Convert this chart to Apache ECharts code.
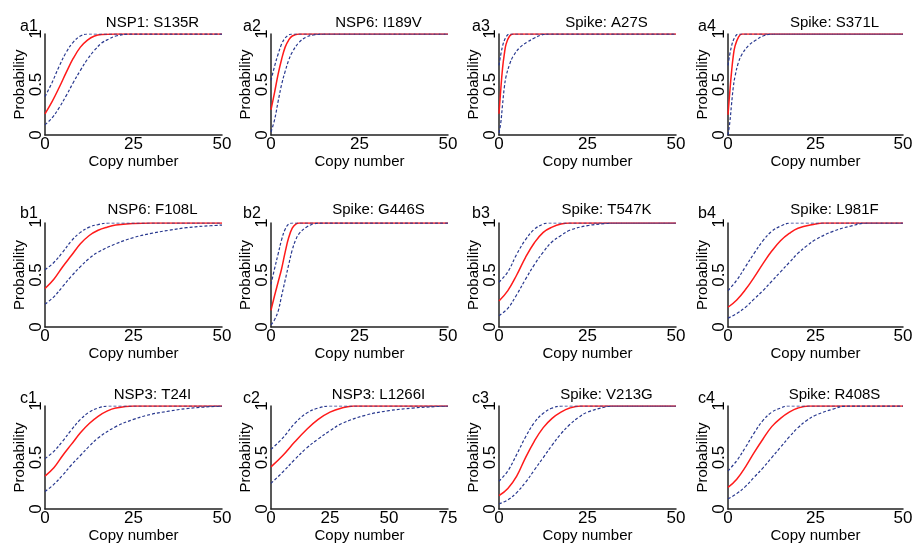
<!DOCTYPE html>
<html>
<head>
	<meta charset="utf-8">
	<title>Probability vs copy number</title>
	<script src="https://cdn.jsdelivr.net/npm/echarts@6/dist/echarts.min.js"></script>
	<style>
		html, body { margin: 0; padding: 0; background: #fff; }
		#chart { width: 916px; height: 544px; }
	</style>
</head>
<body>
	<div id="chart"></div>
	<script>
		// panel tags and titles
		var panelTags = ['a1', 'a2', 'a3', 'a4', 'b1', 'b2', 'b3', 'b4', 'c1', 'c2', 'c3', 'c4'];
		var panelTitles = ['NSP1: S135R', 'NSP6: I189V', 'Spike: A27S', 'Spike: S371L',
			'NSP6: F108L', 'Spike: G446S', 'Spike: T547K', 'Spike: L981F',
			'NSP3: T24I', 'NSP3: L1266I', 'Spike: V213G', 'Spike: R408S'];
		var xMax = [50, 50, 50, 50, 50, 50, 50, 50, 50, 75, 50, 50];
		var yTicks = [0, 0.5, 1];

		// [copy number, probability]: fit, upper, lower
		var a1Fit = [[0,0.21],[2,0.33],[4,0.47],[6,0.62],[8,0.76],[10,0.87],[12,0.94],[14,0.98],[16,0.995],[20,1],[50,1]];
		var a1Up = [[0,0.38],[2,0.52],[4,0.68],[6,0.82],[8,0.92],[10,0.98],[12,1],[50,1]];
		var a1Lo = [[0,0.10],[2,0.17],[4,0.27],[6,0.39],[8,0.52],[10,0.64],[12,0.75],[14,0.84],[16,0.91],[18,0.95],[20,0.98],[24,1],[50,1]];

		var a2Fit = [[0,0.25],[1,0.42],[2,0.6],[3,0.75],[4,0.87],[5,0.94],[6,0.98],[8,1],[50,1]];
		var a2Up = [[0,0.54],[1,0.68],[2,0.8],[3,0.9],[4,0.96],[5,0.99],[6,1],[50,1]];
		var a2Lo = [[0,0.03],[1,0.15],[2,0.33],[3,0.5],[4,0.63],[5,0.74],[6,0.82],[8,0.92],[10,0.97],[12,0.99],[15,1],[50,1]];

		var a3Fit = [[0,0.21],[0.5,0.45],[1,0.66],[1.5,0.8],[2,0.9],[3,0.98],[4,1],[50,1]];
		var a3Up = [[0,0.69],[1,0.88],[2,0.97],[3,1],[50,1]];
		var a3Lo = [[0,0.02],[0.5,0.12],[1,0.3],[1.5,0.47],[2,0.58],[3,0.7],[4,0.78],[6,0.87],[8,0.92],[10,0.96],[12,0.99],[14,1],[50,1]];

		var a4Fit = [[0,0.2],[0.5,0.42],[1,0.62],[1.5,0.78],[2,0.88],[3,0.97],[4,1],[50,1]];
		var a4Up = [[0,0.69],[1,0.88],[2,0.97],[3,1],[50,1]];
		var a4Lo = [[0,0.0],[0.5,0.12],[1,0.3],[1.5,0.47],[2,0.58],[3,0.72],[4,0.8],[6,0.89],[8,0.94],[10,0.98],[13,1],[50,1]];

		var b1Fit = [[0,0.37],[2.5,0.46],[5,0.58],[7.5,0.69],[10,0.8],[12.5,0.88],[15,0.93],[17.5,0.96],[20,0.98],[25,0.995],[30,1],[50,1]];
		var b1Up = [[0,0.55],[2.5,0.62],[5,0.72],[7.5,0.83],[10,0.91],[12.5,0.96],[15,0.985],[18,1],[50,1]];
		var b1Lo = [[0,0.22],[2.5,0.29],[5,0.39],[7.5,0.49],[10,0.58],[12.5,0.66],[15,0.72],[20,0.8],[25,0.86],[30,0.9],[35,0.93],[40,0.955],[45,0.97],[50,0.98]];

		var b2Fit = [[0,0.16],[1,0.3],[2,0.43],[3,0.56],[4,0.72],[5,0.86],[6,0.95],[7,0.99],[8,1],[50,1]];
		var b2Up = [[0,0.41],[1,0.56],[2,0.7],[3,0.84],[4,0.94],[5,0.99],[6,1],[50,1]];
		var b2Lo = [[0,0.02],[1,0.07],[2,0.15],[3,0.3],[4,0.45],[5,0.6],[6,0.74],[7,0.84],[8,0.9],[10,0.96],[12,0.99],[15,1],[50,1]];

		var b3Fit = [[0,0.25],[2.5,0.35],[5,0.5],[7.5,0.67],[10,0.81],[12.5,0.91],[15,0.96],[17.5,0.99],[20,1],[50,1]];
		var b3Up = [[0,0.43],[2.5,0.53],[5,0.7],[7.5,0.84],[10,0.94],[12.5,0.99],[14,1],[50,1]];
		var b3Lo = [[0,0.11],[2.5,0.18],[5,0.31],[7.5,0.46],[10,0.6],[12.5,0.72],[15,0.82],[17.5,0.88],[20,0.93],[25,0.975],[30,0.995],[32,1],[50,1]];

		var b4Fit = [[0,0.19],[2.5,0.26],[5,0.36],[7.5,0.48],[10,0.61],[12.5,0.73],[15,0.83],[17.5,0.9],[20,0.95],[25,0.99],[27,1],[50,1]];
		var b4Up = [[0,0.35],[2.5,0.45],[5,0.58],[7.5,0.71],[10,0.83],[12.5,0.92],[15,0.97],[18,1],[50,1]];
		var b4Lo = [[0,0.085],[2.5,0.13],[5,0.19],[7.5,0.27],[10,0.35],[12.5,0.44],[15,0.53],[17.5,0.62],[20,0.71],[22.5,0.78],[25,0.84],[30,0.92],[35,0.97],[40,1],[50,1]];

		var c1Fit = [[0,0.32],[2.5,0.4],[5,0.52],[7.5,0.63],[10,0.74],[12.5,0.83],[15,0.9],[17.5,0.95],[20,0.98],[25,1],[50,1]];
		var c1Up = [[0,0.49],[2.5,0.56],[5,0.66],[7.5,0.77],[10,0.87],[12.5,0.94],[15,0.98],[18,1],[50,1]];
		var c1Lo = [[0,0.17],[2.5,0.24],[5,0.33],[7.5,0.43],[10,0.52],[12.5,0.61],[15,0.69],[20,0.8],[25,0.87],[30,0.92],[35,0.95],[40,0.975],[45,0.99],[50,1]];

		var c2Fit = [[0,0.41],[5,0.52],[10,0.65],[15,0.77],[20,0.87],[25,0.94],[30,0.98],[35,1],[75,1]];
		var c2Up = [[0,0.58],[5,0.69],[10,0.83],[15,0.93],[20,0.98],[25,1],[75,1]];
		var c2Lo = [[0,0.25],[5,0.36],[10,0.48],[15,0.59],[20,0.68],[25,0.76],[30,0.83],[40,0.91],[50,0.955],[60,0.98],[70,0.995],[75,1]];

		var c3Fit = [[0,0.13],[2.5,0.2],[5,0.32],[7.5,0.5],[10,0.66],[12.5,0.79],[15,0.88],[17.5,0.94],[20,0.98],[23,1],[50,1]];
		var c3Up = [[0,0.27],[2.5,0.37],[5,0.53],[7.5,0.7],[10,0.84],[12.5,0.93],[15,0.98],[18,1],[50,1]];
		var c3Lo = [[0,0.05],[2.5,0.09],[5,0.16],[7.5,0.26],[10,0.38],[12.5,0.5],[15,0.62],[17.5,0.73],[20,0.82],[22.5,0.89],[25,0.94],[30,0.99],[32,1],[50,1]];

		var c4Fit = [[0,0.21],[2.5,0.29],[5,0.41],[7.5,0.55],[10,0.68],[12.5,0.8],[15,0.88],[17.5,0.94],[20,0.98],[23,1],[50,1]];
		var c4Up = [[0,0.37],[2.5,0.47],[5,0.6],[7.5,0.74],[10,0.86],[12.5,0.94],[15,0.98],[17,1],[50,1]];
		var c4Lo = [[0,0.1],[2.5,0.15],[5,0.22],[7.5,0.31],[10,0.4],[12.5,0.5],[15,0.6],[17.5,0.7],[20,0.79],[22.5,0.86],[25,0.91],[30,0.97],[34,1],[50,1]];

		var fits = [a1Fit, a2Fit, a3Fit, a4Fit, b1Fit, b2Fit, b3Fit, b4Fit, c1Fit, c2Fit, c3Fit, c4Fit];
		var uppers = [a1Up, a2Up, a3Up, a4Up, b1Up, b2Up, b3Up, b4Up, c1Up, c2Up, c3Up, c4Up];
		var lowers = [a1Lo, a2Lo, a3Lo, a4Lo, b1Lo, b2Lo, b3Lo, b4Lo, c1Lo, c2Lo, c3Lo, c4Lo];

		// layout in px
		var colLeft = [45, 271, 499, 728];
		var colWidth = [177, 177, 177, 175];
		var rowTop = [34, 223, 406];
		var rowHeight = [101, 104, 106];
		var tagLeft = [15, 238, 467, 693];
		var titleTop = [10, 197, 382];
		var tagTop = [14, 201, 386];

		var font = 'Liberation Sans, Arial, sans-serif';
		var axisColor = '#222';

		var grids = [], xAxes = [], yAxes = [], series = [], titles = [];

		for (var i = 0; i < 12; i++) {
			var r = Math.floor(i / 4), c = i % 4;
			grids.push({
				left: colLeft[c], top: rowTop[r],
				width: colWidth[c], height: rowHeight[r]
			});
			xAxes.push({
				type: 'value', gridIndex: i, min: 0, max: xMax[i], interval: 25,
				name: 'Copy number', nameLocation: 'middle', nameGap: 12,
				nameTextStyle: {fontFamily: font, fontSize: 15, color: '#000'},
				axisLine: {lineStyle: {color: axisColor, width: 1.5}},
				axisTick: {show: false},
				splitLine: {show: false},
				axisLabel: {fontFamily: font, fontSize: 17, color: '#000', margin: 1}
			});
			yAxes.push({
				type: 'value', gridIndex: i, min: 0, max: 1, interval: 0.5,
				name: 'Probability', nameLocation: 'middle', nameGap: 14,
				nameTextStyle: {fontFamily: font, fontSize: 15, color: '#000'},
				axisLine: {show: true, lineStyle: {color: axisColor, width: 1.5}},
				axisTick: {show: false},
				splitLine: {show: false},
				axisLabel: {
					fontFamily: font, fontSize: 17, color: '#000', rotate: 90, margin: 0,
					formatter: function (v) { return yTicks.indexOf(v) >= 0 ? String(v) : ''; }
				}
			});
			titles.push({
				text: panelTitles[i], left: colLeft[c] + colWidth[c] / 2 + 14, top: titleTop[r],
				textAlign: 'center',
				textStyle: {fontFamily: font, fontSize: 15, fontWeight: 'normal', color: '#000'}
			});
			titles.push({
				text: panelTags[i], left: tagLeft[c], top: tagTop[r],
				textStyle: {fontFamily: font, fontSize: 16, fontWeight: 'normal', color: '#000'}
			});

			[uppers[i], lowers[i]].forEach(function (d) {
				series.push({
					type: 'line', xAxisIndex: i, yAxisIndex: i, data: d,
					smooth: 0.4, showSymbol: false, silent: true, z: 3,
					lineStyle: {color: '#28388f', width: 1.2, type: [3, 2]}
				});
			});
			series.push({
				type: 'line', xAxisIndex: i, yAxisIndex: i, data: fits[i],
				smooth: 0.4, showSymbol: false, silent: true, z: 2,
				lineStyle: {color: '#ff1a1a', width: 1.5}
			});
		}

		var chart = echarts.init(document.getElementById('chart'), null, {renderer: 'canvas'});
		chart.setOption({
			animation: false,
			backgroundColor: '#fff',
			title: titles,
			grid: grids,
			xAxis: xAxes,
			yAxis: yAxes,
			series: series
		});
	</script>
</body>
</html>
